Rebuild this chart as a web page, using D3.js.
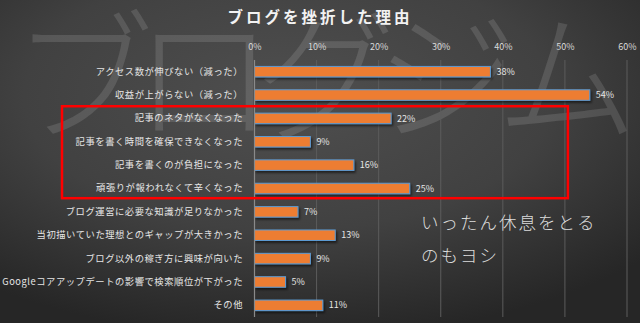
<!DOCTYPE html>
<html><head><meta charset="utf-8">
<script src="https://cdnjs.cloudflare.com/ajax/libs/d3/7.8.5/d3.min.js"></script>
<style>html,body{margin:0;padding:0;background:#333;overflow:hidden}</style>
</head><body>
<script>
const categories = ["アクセス数が伸びない（減った）","収益が上がらない（減った）","記事のネタがなくなった","記事を書く時間を確保できなくなった","記事を書くのが負担になった","頑張りが報われなくて辛くなった","ブログ運営に必要な知識が足りなかった","当初描いていた理想とのギャップが大きかった","ブログ以外の稼ぎ方に興味が向いた","Googleコアアップデートの影響で検索順位が下がった","その他"];
const values = [38,54,22,9,16,25,7,13,9,5,11];
const ticks = [0,10,20,30,40,50,60];
const title = "ブログを挫折した理由";
const watermark = "ブログジム";
const noteLines = ["いったん休息をとる","のもヨシ"];
const highlighted = ["記事のネタがなくなった","頑張りが報われなくて辛くなった"];

const W=640,H=323;
const font='"Noto Sans CJK JP","Noto Sans",sans-serif';
const svg=d3.select("body").append("svg").attr("width",W).attr("height",H).style("display","block");
const defs=svg.append("defs");
const rg=defs.append("radialGradient").attr("id","bg").attr("cx","0.45").attr("cy","0.3").attr("r","0.75");
rg.append("stop").attr("offset","0").attr("stop-color","#4f4f4f");
rg.append("stop").attr("offset","0.55").attr("stop-color","#414141");
rg.append("stop").attr("offset","1").attr("stop-color","#262626");
const f=defs.append("filter").attr("id","sh").attr("x","-5%").attr("y","-50%").attr("width","115%").attr("height","250%");
f.append("feDropShadow").attr("dx",1.5).attr("dy",2).attr("stdDeviation",1.2).attr("flood-color","#000").attr("flood-opacity",0.55);

svg.append("rect").attr("width",W).attr("height",H).attr("fill","url(#bg)");

svg.append("text").attr("x",12).attr("y",130).text(watermark)
  .attr("font-family",font).attr("font-weight",300).attr("font-size",142)
  .attr("fill","#ffffff").attr("fill-opacity",0.12)
  .attr("textLength",626).attr("lengthAdjust","spacing");

const x=d3.scaleLinear().domain([0,60]).range([254.5,627]);
const y=d3.scaleBand().domain(categories).range([60,317]).paddingInner(0.55).paddingOuter(0.275);

// gridlines
svg.append("g").selectAll("line").data(ticks.slice(1)).join("line")
  .attr("x1",d=>x(d)).attr("x2",d=>x(d)).attr("y1",60).attr("y2",317)
  .attr("stroke","#5c5c5c").attr("stroke-width",1);

// top axis labels
const ax=svg.append("g").attr("transform","translate(0,50)")
  .call(d3.axisTop(x).tickValues(ticks).tickFormat(d=>d+"%").tickSize(0).tickPadding(0));
ax.select(".domain").remove();
ax.selectAll("text").attr("font-family",font).attr("font-size",9).attr("fill","#d9d9d9").attr("dy","0");

// bars
svg.append("g").selectAll("rect").data(values).join("rect")
  .attr("x",x(0)).attr("y",(d,i)=>y(categories[i]))
  .attr("width",d=>x(d)-x(0)).attr("height",y.bandwidth())
  .attr("fill","#ed7d31").attr("stroke","#5b9bd5").attr("stroke-width",1)
  .attr("filter","url(#sh)");

// axis line
svg.append("line").attr("x1",x(0)).attr("x2",x(0)).attr("y1",60).attr("y2",317)
  .attr("stroke","#8a8a8a").attr("stroke-width",1.2);

// value labels
svg.append("g").selectAll("text").data(values).join("text")
  .attr("x",d=>x(d)+6).attr("y",(d,i)=>y(categories[i])+y.bandwidth()/2)
  .attr("dy","0.35em").text(d=>d+"%")
  .attr("font-family",font).attr("font-size",9).attr("fill","#e6e6e6");

// category labels
const ay=svg.append("g").attr("transform","translate(243,0)")
  .call(d3.axisLeft(y).tickSize(0).tickPadding(0));
ay.select(".domain").remove();
ay.selectAll("text").attr("font-family",font).attr("font-size",9.3).attr("fill","#e6e6e6")
  .attr("letter-spacing",0.55);

// highlight box
const y0=y(highlighted[0])-(y.step()-y.bandwidth())/2-0.5;
const y1=y(highlighted[1])+y.bandwidth()+(y.step()-y.bandwidth())/2-2;
svg.append("rect").attr("x",62).attr("y",y0).attr("width",x(50)+3-62).attr("height",y1-y0)
  .attr("fill","none").attr("stroke","#ff0000").attr("stroke-width",2.5);

// title
svg.append("text").attr("x",320).attr("y",23).attr("text-anchor","middle").text(title)
  .attr("font-family",font).attr("font-weight",700).attr("font-size",15.5)
  .attr("fill","#f2f2f2").attr("letter-spacing",3);

// note
svg.append("g").selectAll("text").data(noteLines).join("text")
  .attr("x",421).attr("y",(d,i)=>229+i*33).text(d=>d)
  .attr("font-family",font).attr("font-weight",300).attr("font-size",17.5)
  .attr("fill","#dcdcdc").attr("letter-spacing",2);
</script>
</body></html>
